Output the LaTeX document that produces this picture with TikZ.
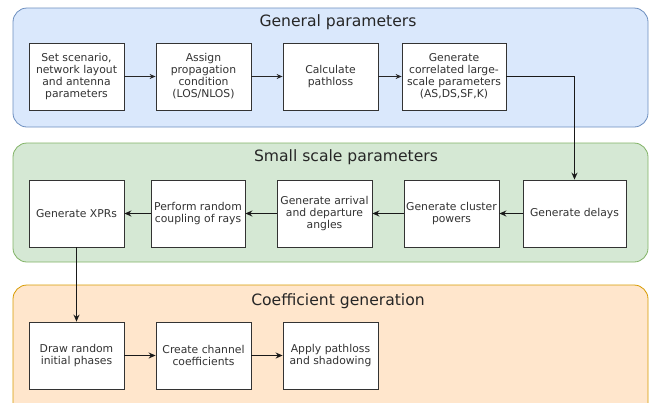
\documentclass[tikz,border=0pt]{standalone}
\usepackage{fontspec}
\setmainfont{DejaVu Sans}
\usetikzlibrary{arrows.meta}
\definecolor{bluefill}{HTML}{DAE8FC}
\definecolor{bluedraw}{HTML}{6C8EBF}
\definecolor{greenfill}{HTML}{D5E8D4}
\definecolor{greendraw}{HTML}{82B366}
\definecolor{orangefill}{HTML}{FFE6CC}
\definecolor{orangedraw}{HTML}{D79B00}
\definecolor{boxdraw}{HTML}{333333}
\definecolor{txt}{HTML}{333333}
\tikzset{
  procbox/.style={draw=boxdraw, fill=white, line width=0.8pt, minimum height=67pt,
    minimum width=95pt, inner sep=0pt, align=center, text=txt,
    font=\fontsize{10.8}{12}\selectfont},
  group/.style={rounded corners=14pt, line width=0.8pt},
  grouptitle/.style={font=\fontsize{15.6}{18}\selectfont, text=black!85},
  flow/.style={draw=black!90, line width=1.5pt, -{Stealth[length=7pt,width=6pt]}},
  thinflow/.style={draw=black!85, line width=1pt, -{Stealth[length=6pt,width=5pt]}},
}
\begin{document}
\begin{tikzpicture}[x=1pt,y=-1pt]
\useasboundingbox (0,0) rectangle (655,402);
\clip (0,0) rectangle (655,402);
% containers
\draw[group, fill=bluefill, draw=bluedraw] (13,8) rectangle (648,127);
\draw[group, fill=greenfill, draw=greendraw] (13,143) rectangle (648,262);
\draw[group, fill=orangefill, draw=orangedraw] (13,285) rectangle (648,420);
\node[grouptitle] (t1) at (338,22) {General parameters};
\node[grouptitle] (t2) at (346,157) {Small scale parameters};
\node[grouptitle] (t3) at (338,301) {Coefficient generation};
% row 1
\node[procbox] (b1) at (76.5,76.5) {Set scenario,\\network layout\\and antenna\\parameters};
\node[procbox] (b2) at (203.5,76.5) {Assign\\propagation\\condition\\(LOS/NLOS)};
\node[procbox] (b3) at (330.5,76.5) {Calculate\\pathloss};
\node[procbox, minimum width=104pt] (b4) at (454,76.5) {Generate\\correlated large-\\scale parameters\\(AS,DS,SF,K)};
% row 2
\node[procbox] (s1) at (76.5,213.5) {Generate XPRs};
\node[procbox, minimum width=94pt] (s2) at (198,213.5) {Perform random\\coupling of rays};
\node[procbox] (s3) at (324.5,213.5) {Generate arrival\\and departure\\angles};
\node[procbox] (s4) at (451.5,213.5) {Generate cluster\\powers};
\node[procbox, minimum width=103pt] (s5) at (574.5,213.5) {Generate delays};
% row 3
\node[procbox] (c1) at (76.5,355.5) {Draw random\\initial phases};
\node[procbox] (c2) at (203.5,355.5) {Create channel\\coefficients};
\node[procbox] (c3) at (330.5,355.5) {Apply pathloss\\and shadowing};
% connectors
\draw[thinflow] (b1) -- (b2);
\draw[thinflow] (b2) -- (b3);
\draw[thinflow] (b3) -- (b4);
\draw[flow] (b4.east) -| (s5.north);
\draw[flow] (s5) -- (s4);
\draw[flow] (s4) -- (s3);
\draw[flow] (s3) -- (s2);
\draw[flow] (s2) -- (s1);
\draw[flow] (s1) -- (c1);
\draw[flow] (c1) -- (c2);
\draw[flow] (c2) -- (c3);
\end{tikzpicture}
\end{document}
